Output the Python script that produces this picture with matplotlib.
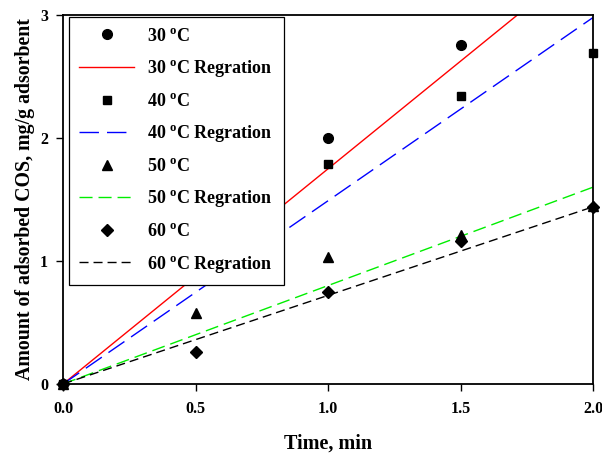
import matplotlib
matplotlib.use("Agg")
import matplotlib.pyplot as plt
import numpy as np

plt.rcParams['font.family'] = ['Liberation Serif', 'DejaVu Serif']
plt.rcParams['font.weight'] = 'bold'
plt.rcParams['mathtext.fontset'] = 'custom'
plt.rcParams['mathtext.rm'] = 'Liberation Serif:bold'
plt.rcParams['mathtext.it'] = 'Liberation Serif:bold'
plt.rcParams['mathtext.bf'] = 'Liberation Serif:bold'

# data
t30 = [0.0, 0.5, 1.0, 1.5]
q30 = [0.0, 1.00, 2.00, 2.76]
t40 = [0.0, 0.5, 1.0, 1.5, 2.0]
q40 = [0.0, 0.90, 1.79, 2.34, 2.69]
t50 = [0.0, 0.5, 1.0, 1.5, 2.0]
q50 = [0.0, 0.58, 1.03, 1.21, 1.45]
t60 = [0.0, 0.5, 1.0, 1.5, 2.0]
q60 = [0.0, 0.26, 0.75, 1.16, 1.44]
slopes = [1.75, 1.49, 0.80, 0.72]
temps = ['30', '40', '50', '60']
xticks = [0.0, 0.5, 1.0, 1.5, 2.0]
yticks = [0, 1, 2, 3]

fig = plt.figure(figsize=(6.02, 4.57), dpi=100)
ax = fig.add_axes([0.105, 0.160, 0.880, 0.807])

tfit = np.array([0.0, 2.0])
markers = ['o', 's', '^', 'D']
msizes = [7, 6, 7, 6]
line_colors = ['#ff0000', '#0000ff', '#00ee00', '#000000']
dashes = [None, (14, 5.8), (9.4, 4.3), (6.5, 3.6)]
data = [(t30, q30), (t40, q40), (t50, q50), (t60, q60)]

for i in range(4):
    tx, qy = data[i]
    ax.plot(tx, qy, linestyle='none', marker=markers[i], ms=msizes[i],
            color='black', clip_on=False, zorder=3,
            label=r'%s $^{\mathrm{o}}$C' % temps[i])
    if dashes[i] is None:
        ax.plot(tfit, slopes[i] * tfit, color=line_colors[i], lw=1.0,
                label=r'%s $^{\mathrm{o}}$C Regration' % temps[i], zorder=2)
    else:
        ax.plot(tfit, slopes[i] * tfit, color=line_colors[i], lw=1.0,
                dashes=dashes[i],
                label=r'%s $^{\mathrm{o}}$C Regration' % temps[i], zorder=2)

ax.set_xlim(0, 2.0)
ax.set_ylim(0, 3)
ax.set_xticks(xticks)
ax.set_xticklabels(['%.1f' % v for v in xticks])
ax.set_yticks(yticks)
ax.set_yticklabels([str(v) for v in yticks])
ax.tick_params(direction='out', length=5, width=1.0, labelsize=11.5)
ax.tick_params(axis='x', pad=7)
ax.tick_params(axis='y', pad=6)
for s in ax.spines.values():
    s.set_linewidth(1.3)

ax.set_xlabel('Time, min', fontsize=14.5, fontweight='bold', labelpad=12)
ax.set_ylabel('Amount of adsorbed COS, mg/g adsorbent', fontsize=14.3,
              fontweight='bold', labelpad=3.5)

leg = ax.legend(loc='upper left', bbox_to_anchor=(0.01, 0.995), fontsize=13,
                frameon=True, fancybox=False, framealpha=1, edgecolor='black',
                handlelength=3.05, handletextpad=0.72, labelspacing=0.75,
                borderpad=0.6, borderaxespad=0.0)
leg.get_frame().set_linewidth(0.9)
leg.set_zorder(5)

fig.savefig('out.png', dpi=100)
